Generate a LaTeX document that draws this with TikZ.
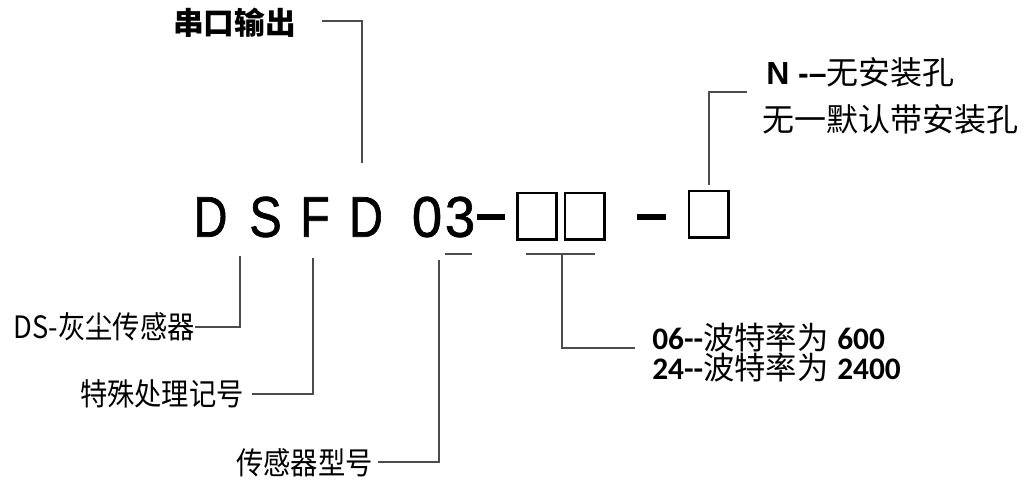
\documentclass[tikz,border=0pt]{standalone}
\usepackage{fontspec}
\setmainfont{Liberation Sans}
\newfontfamily\cjk{Noto Sans CJK SC}
\newfontfamily\carl{Carlito}
\newfontfamily\bigf[FakeBold=1.2]{Liberation Sans}
\begin{document}
\begin{tikzpicture}[x=0.75pt,y=-0.75pt,
  big/.style={inner sep=0pt,font=\bigf\fontsize{43}{43}\selectfont},
  lbl/.style={inner sep=0pt},
  conn/.style={draw=black!70,line width=0.8pt},
  codebox/.style={draw=black,line width=2pt,inner sep=0pt,minimum width=29.5pt,minimum height=35pt},
  dashbar/.style={draw=black,line width=4.5pt}]
\useasboundingbox (0,0) rectangle (1027,484);
% main code letters
\node[big] (d1) at (210.5,217) {\scalebox{0.82}[1]{D}};
\node[big] (s1) at (265.5,217) {\scalebox{0.85}[1]{S}};
\node[big] (f1) at (315,217) {\scalebox{0.85}[1]{F}};
\node[big] (d2) at (366,217) {\scalebox{0.82}[1]{D}};
\node[big] (n0) at (427,217) {\scalebox{0.95}[1]{0}};
\node[big] (n3) at (460,217) {\scalebox{0.95}[1]{3}};
\coordinate (da) at (477,217);
\coordinate (db) at (505,217);
\draw[dashbar] (da) -- (db);
\node[codebox] (b1) at (537,216.5) {};
\node[codebox] (b2) at (584.5,216.5) {};
\coordinate (dc) at (637,217);
\coordinate (dd) at (666,217);
\draw[dashbar] (dc) -- (dd);
\node[codebox] (b3) at (708.5,214.5) {};
% top labels
\node[lbl,anchor=west] (serial) at (173,23) {\fontsize{23}{23}\cjk\bfseries 串口输出};
\coordinate (serialA) at (322,21);
\coordinate (serialB) at (362,163);
\draw[conn] (serialA) -| (serialB);
\node[lbl,anchor=west] (nl1) at (766,72) {\fontsize{24}{24}\selectfont{\bfseries N -–}{\cjk 无安装孔}};
\node[lbl,anchor=west] (nl2) at (762,119) {\fontsize{24}{24}\cjk 无一默认带安装孔};
\coordinate (nA) at (747,92);
\coordinate (nB) at (709,185);
\draw[conn] (nA) -| (nB);
% bottom left labels
\node[lbl,anchor=east] (ds) at (195,327) {\scalebox{0.93}[1.05]{\fontsize{22}{22}\cjk DS-灰尘传感器}};
\coordinate (dsT) at (240,256);
\draw[conn] (ds.east) -| (dsT);
\node[lbl,anchor=east] (sp) at (244,394) {\scalebox{0.93}[1.05]{\fontsize{22}{22}\cjk 特殊处理记号}};
\coordinate (spT) at (313,258);
\coordinate (spL) at (252,394);
\draw[conn] (spL) -| (spT);
\node[lbl,anchor=east] (tp) at (373,463) {\scalebox{0.93}[1.05]{\fontsize{22}{22}\cjk 传感器型号}};
\coordinate (tpT) at (439,260);
\coordinate (tpL) at (378,462);
\draw[conn] (tpL) -| (tpT);
% underline under 3
\coordinate (u1) at (445,254);
\coordinate (u2) at (472,254);
\draw[conn] (u1) -- (u2);
% bracket under boxes
\coordinate (br1) at (526,254);
\coordinate (br2) at (595,254);
\coordinate (brM) at (562,254);
\coordinate (brR) at (635,348);
\draw[conn] (br1) -- (br2);
\draw[conn] (brM) |- (brR);
\node[lbl,anchor=west] (baud1) at (652,338) {\fontsize{23.5}{23.5}\selectfont{\carl\bfseries 06-{}-}{\cjk 波特率为} {\carl\bfseries 600}};
\node[lbl,anchor=west] (baud2) at (652,368) {\fontsize{23.5}{23.5}\selectfont{\carl\bfseries 24-{}-}{\cjk 波特率为} {\carl\bfseries 2400}};
\end{tikzpicture}
\end{document}
